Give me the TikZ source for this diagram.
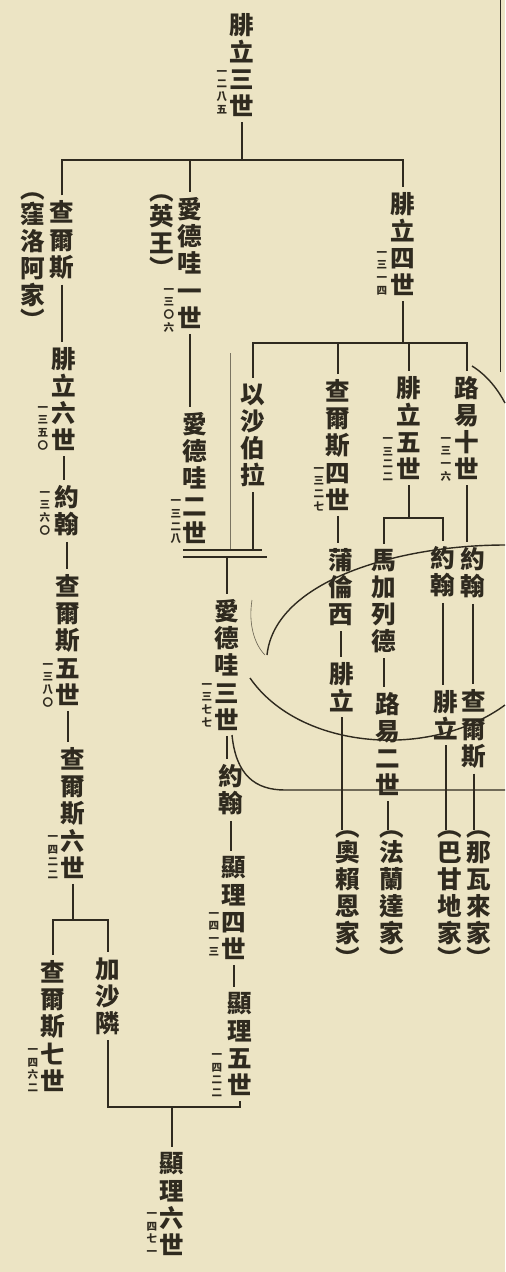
\documentclass[tikz,border=0pt]{standalone}
\usepackage{fontspec}
\newfontfamily\cjk{Noto Sans CJK TC}
\usetikzlibrary{calc}
\definecolor{paper}{HTML}{ECE4C4}
\definecolor{ink}{HTML}{2F2A1F}

\newcommand{\kai}{\raisebox{8pt}{︵}\\[-9pt]}
\newcommand{\bi}{\\[-9pt]\raisebox{-8pt}{︶}}

\tikzset{
  ming/.style={font=\cjk\bfseries\fontsize{14}{15.4}\selectfont, text=ink, align=center, inner xsep=0pt, inner ysep=3pt},
  nian/.style={font=\cjk\bfseries\fontsize{6}{7.2}\selectfont, text=ink, align=center, inner sep=0pt},
  jia/.style={ming, inner ysep=0pt},
  line/.style={draw=ink, line width=1pt},
  pen/.style={draw=ink, line width=0.8pt},
}

\begin{document}
\begin{tikzpicture}[x=0.02cm, y=-0.02cm]
        \fill[paper] (0,0) rectangle (505,1272);
        \useasboundingbox (0,0) rectangle (505,1272);

        % Nodes
        \draw (242,65)   node(p3)  [ming] {腓\\立\\三\\世};
        \draw (222,92)   node      [nian] {一\\二\\八\\五};

        \draw (62,240)   node(c1)  [ming] {查\\爾\\斯};
        \draw (33,261)   node(wl)  [jia]  {\kai 窪\\洛\\阿\\家\bi};
        \draw (64,399)   node(c2)  [ming] {腓\\立\\六\\世};
        \draw (43,428)   node      [nian] {一\\三\\五\\〇};
        \draw (67,511)   node(c3)  [ming] {約\\翰};
        \draw (45,513)   node      [nian] {一\\三\\六\\〇};
        \draw (68,640)   node(c4)  [ming] {查\\爾\\斯\\五\\世};
        \draw (48,685)   node      [nian] {一\\三\\八\\〇};
        \draw (73,813)   node(c5)  [ming] {查\\爾\\斯\\六\\世};
        \draw (53,857)   node      [nian] {一\\四\\二\\二};
        \draw (53,1026)  node(c6)  [ming] {查\\爾\\斯\\七\\世};
        \draw (33,1070)  node      [nian] {一\\四\\六\\二};
        \draw (108,996)  node(c7)  [ming] {加\\沙\\隣};
        \draw (172,1204) node(h6)  [ming] {顯\\理\\六\\世};
        \draw (152,1234) node      [nian] {一\\四\\七\\一};

        \draw (190,263)  node(e1)  [ming] {愛\\德\\哇\\一\\世};
        \draw (162,236)  node(en)  [jia]  {\kai 英\\王\bi};
        \draw (169,310)  node      [nian] {一\\三\\〇\\六};
        \draw (195,478)  node(e2)  [ming] {愛\\德\\哇\\二\\世};
        \draw (176,522)  node      [nian] {一\\三\\二\\八};
        \draw (227,665)  node(e3)  [ming] {愛\\德\\哇\\三\\世};
        \draw (207,705)  node      [nian] {一\\三\\七\\七};
        \draw (231,790)  node(e4)  [ming] {約\\翰};
        \draw (234,908)  node(e5)  [ming] {顯\\理\\四\\世};
        \draw (214,934)  node      [nian] {一\\四\\一\\三};
        \draw (240,1044) node(e6)  [ming] {顯\\理\\五\\世};
        \draw (217,1075) node      [nian] {一\\四\\二\\二};

        \draw (403,244)  node(p4)  [ming] {腓\\立\\四\\世};
        \draw (382,273)  node      [nian] {一\\三\\一\\四};
        \draw (253,435)  node(is)  [ming] {以\\沙\\伯\\拉};
        \draw (338,445)  node(ch4) [ming] {查\\爾\\斯\\四\\世};
        \draw (319,489)  node      [nian] {一\\三\\二\\七};
        \draw (341,587)  node(bl)  [ming] {蒲\\倫\\西};
        \draw (342,687)  node(fp)  [ming] {腓\\立};
        \draw (348,899)  node(or)  [jia]  {\kai 奧\\賴\\恩\\家\bi};
        \draw (409,428)  node(p5)  [ming] {腓\\立\\五\\世};
        \draw (388,459)  node      [nian] {一\\三\\二\\二};
        \draw (384,601)  node(ml)  [ming] {馬\\加\\列\\德};
        \draw (388,744)  node(l2)  [ming] {路\\易\\二\\世};
        \draw (392,899)  node(fr)  [jia]  {\kai 法\\蘭\\達\\家\bi};
        \draw (443,572)  node(jn1) [ming] {約\\翰};
        \draw (446,715)  node(fp2) [ming] {腓\\立};
        \draw (450,899)  node(bg)  [jia]  {\kai 巴\\甘\\地\\家\bi};
        \draw (467,428)  node(l10) [ming] {路\\易\\十\\世};
        \draw (446,459)  node      [nian] {一\\三\\一\\六};
        \draw (473,573)  node(jn2) [ming] {約\\翰};
        \draw (474,729)  node(ch)  [ming] {查\\爾\\斯};
        \draw (479,899)  node(nv)  [jia]  {\kai 那\\瓦\\來\\家\bi};

        % Bars
        \coordinate (k1) at (242,160);
        \coordinate (k2) at (73,920);
        \coordinate (k3) at (172,1107);
        \coordinate (k4) at (403,343);
        \coordinate (k5) at (409,518);
        \coordinate (m1) at (183,550);
        \coordinate (m2) at (262,550);
        \coordinate (m3) at (183,557);
        \coordinate (m4) at (267,557);

        % Edges
        \draw[line] (p3.south) -- (k1);
        \draw[line] (c1.north) |- (k1) -| (p4.north);
        \draw[line] (e1.north) -- (e1.north |- k1);

        \draw[line] (c1.south) -- (c1.south |- c2.north);
        \draw[line] (c2.south) -- (c2.south |- c3.north);
        \draw[line] (c3.south) -- (c3.south |- c4.north);
        \draw[line] (c4.south) -- (c4.south |- c5.north);
        \draw[line] (c5.south) -- (k2);
        \draw[line] (c6.north) |- (k2) -| (c7.north);
        \draw[line] (c7.south) |- (k3) -| (e6.south);
        \draw[line] (k3) -- (h6.north);

        \draw[line] (e1.south) -- (e1.south |- e2.north);
        \draw[line] (m1) -- (m2);
        \draw[line] (m3) -- (m4);
        \draw[line] (is.south) -- (is.south |- m2);
        \draw[line] (e3.north |- m3) -- (e3.north);
        \draw[line] (e3.south) -- (e3.south |- e4.north);
        \draw[line] (e4.south) -- (e4.south |- e5.north);
        \draw[line] (e5.south) -- (e5.south |- e6.north);

        \draw[line] (p4.south) -- (k4);
        \draw[line] (is.north) |- (k4) -| (l10.north);
        \draw[line] (ch4.north) -- (ch4.north |- k4);
        \draw[line] (p5.north) -- (p5.north |- k4);
        \draw[line] (ch4.south) -- (ch4.south |- bl.north);
        \draw[line] (bl.south) -- (bl.south |- fp.north);
        \draw[line] (fp.south) -- (fp.south |- or.north);
        \draw[line] (p5.south) -- (k5);
        \draw[line] (ml.north) |- (k5) -| (jn1.north);
        \draw[line] (ml.south) -- (ml.south |- l2.north);
        \draw[line] (l2.south) -- (l2.south |- fr.north);
        \draw[line] (jn1.south) -- (jn1.south |- fp2.north);
        \draw[line] (fp2.south) -- (fp2.south |- bg.north);
        \draw[line] (l10.south) -- (l10.south |- jn2.north);
        \draw[line] (jn2.south) -- (jn2.south |- ch.north);
        \draw[line] (ch.south) -- (ch.south |- nv.north);

        % Pen marks
        \draw[ink, line width=0.3pt, opacity=0.6] (230,353) -- (230,550);
        \draw[ink, line width=0.4pt] (500,0) -- (500,372);
        \draw[pen] (472,366) .. controls (488,376) and (498,390) .. (505,403);
        \draw[pen] (505,545) .. controls (400,545) and (275,580) .. (267,655);
        \draw[pen] (250,678) .. controls (300,750) and (430,760) .. (505,705);
        \draw[ink, line width=0.35pt, opacity=0.7] (252,600) .. controls (248,625) and (255,645) .. (265,655);
        \draw[pen] (232,735) .. controls (236,775) and (255,790) .. (285,790) -- (505,790);

\end{tikzpicture}
\end{document}
